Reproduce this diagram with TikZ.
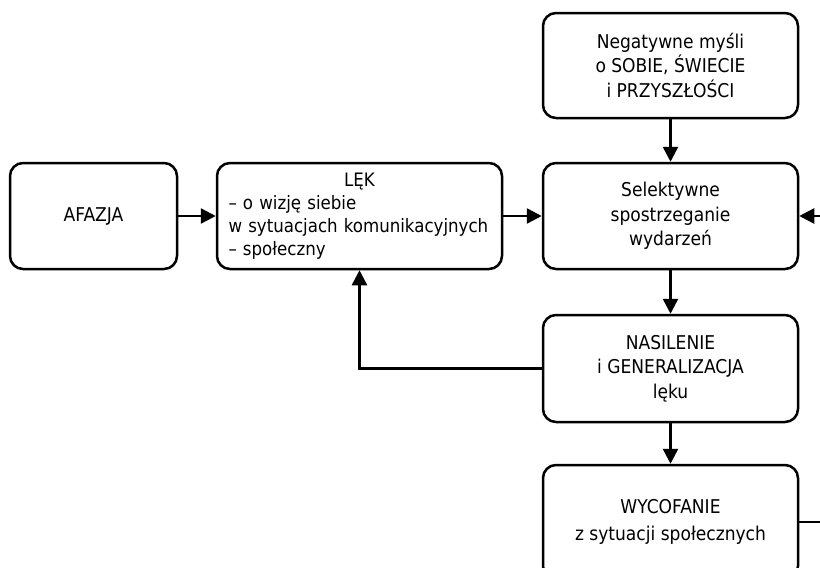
\documentclass[tikz,border=0pt]{standalone}
\usepackage{fontspec}
\setmainfont{DejaVu Sans Condensed}
\usetikzlibrary{arrows.meta}
\begin{document}
\begin{tikzpicture}[x=1pt,y=-1pt,
  box/.style={draw, line width=2.5pt, rounded corners=13pt, align=center,
    inner sep=0pt, font=\fontsize{19}{24.5}\selectfont},
  conn/.style={line width=2.5pt, -{Triangle[length=15pt,width=15pt]}}]
\useasboundingbox (0,0) rectangle (820,568);
\clip (0,0) rectangle (820,568);
\node[box, minimum width=167pt, minimum height=106pt] (afa) at (93.5,216) {AFAZJA};
\node[box, minimum width=285pt, minimum height=106pt, text width=262pt, align=left,
  font=\fontsize{18.5}{23}\selectfont] (lek) at (359.5,216)
  {\hfill LĘK\hfill\null\\\mbox{– o wizję siebie}\\\mbox{w sytuacjach komunikacyjnych}\\\mbox{– społeczny}};
\node[box, minimum width=255pt, minimum height=105pt] (neg) at (670.5,65.5)
  {Negatywne myśli\\o SOBIE, ŚWIECIE\\i PRZYSZŁOŚCI};
\node[box, minimum width=255pt, minimum height=106pt] (sel) at (670.5,216)
  {Selektywne\\spostrzeganie\\wydarzeń};
\node[box, minimum width=255pt, minimum height=107pt] (nas) at (670.5,368.5)
  {NASILENIE\\i GENERALIZACJA\\lęku};
\node[box, minimum width=255pt, minimum height=114pt, font=\fontsize{19}{27}\selectfont] (wyc) at (670.5,522)
  {WYCOFANIE\\z sytuacji społecznych};
\coordinate (rc) at (850,522);
\draw[conn] (afa) -- (lek);
\draw[conn] (lek) -- (sel);
\draw[conn] (neg) -- (sel);
\draw[conn] (sel) -- (nas);
\draw[conn] (nas) -- (wyc);
\draw[conn] (nas.west) -| (lek.south);
\draw[conn] (wyc.east) -- (rc) |- (sel.east);
\end{tikzpicture}
\end{document}
